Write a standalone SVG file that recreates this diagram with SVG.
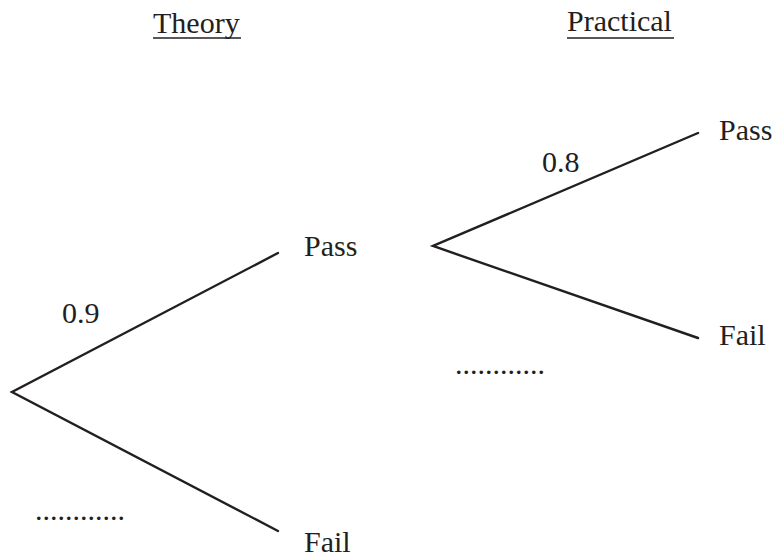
<svg xmlns="http://www.w3.org/2000/svg" width="776" height="558" viewBox="0 0 776 558">
<style>
.br{stroke:#231f20;stroke-width:2.4;fill:none;stroke-linecap:round}
.ul{stroke:#231f20;stroke-width:1.4}
</style>
<rect width="776" height="558" fill="#fff"/>
<g font-family="Liberation Serif, DejaVu Serif, serif" font-size="30" fill="#231f20">
<g id="headers">
<text x="153" y="33">Theory</text>
<line class="ul" x1="153" y1="38" x2="241" y2="38"/>
<text x="567" y="31">Practical</text>
<line class="ul" x1="567" y1="38" x2="674" y2="38"/>
</g>
<g id="connectors">
<polyline class="br" points="278,253 12,392 278,531"/>
<polyline class="br" points="698,133 433,246 698,338"/>
</g>
<g id="theory-pass"><text x="304" y="256">Pass</text></g>
<g id="theory-fail"><text x="304" y="552">Fail</text></g>
<g id="practical-pass"><text x="719" y="140">Pass</text></g>
<g id="practical-fail"><text x="719" y="345">Fail</text></g>
<g id="labels">
<text x="62" y="323">0.9</text>
<text x="542" y="172">0.8</text>
<text x="35" y="520">............</text>
<text x="455" y="374">............</text>
</g>
</g>
</svg>
